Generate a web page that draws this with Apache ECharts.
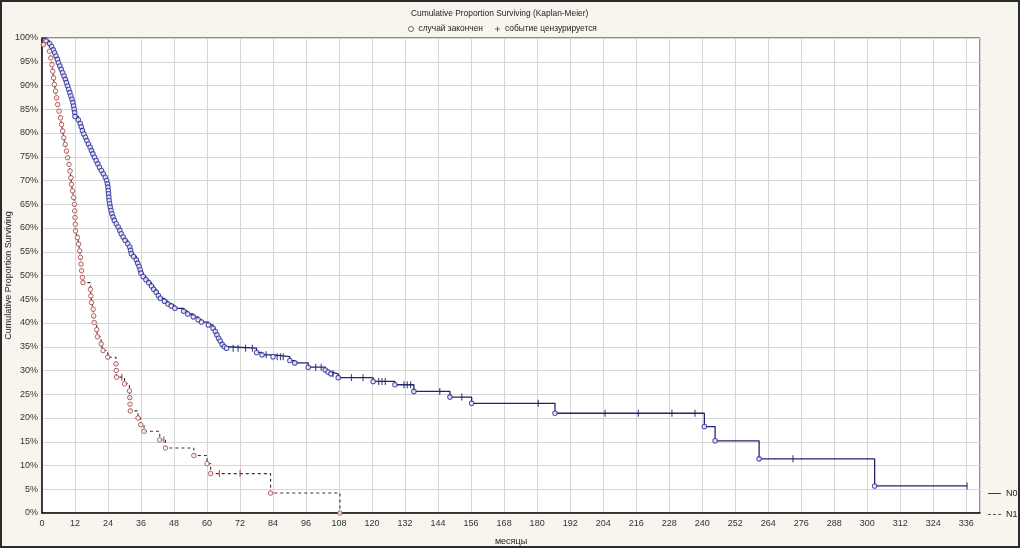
<!DOCTYPE html>
<html>
<head>
<meta charset="utf-8">
<title>Cumulative Proportion Surviving (Kaplan-Meier)</title>
<script src="https://cdn.jsdelivr.net/npm/echarts@6/dist/echarts.min.js"></script>
<style>
  html, body { margin: 0; padding: 0; background: #f7f5ed; }
  #wrap { position: relative; width: 1020px; height: 548px; }
  #chart { width: 1020px; height: 548px; }
  #frame { position: absolute; left: 0; top: 0; width: 1020px; height: 548px; box-sizing: border-box;
    border: 2px solid #2b2b2b; pointer-events: none; }
</style>
</head>
<body>
<div id="wrap">
  <div id="chart"></div>
  <div id="frame"></div>
</div>
<script>
// N0 group: event times (months) and survival (%) right after each event
const n0EventTimes = [1.5, 2.8, 3.5, 4.1, 4.6, 5.1, 5.6, 6.0, 6.5, 7.0, 7.5, 8.0, 8.5, 8.9, 9.3, 9.7, 10.1, 10.5, 10.9, 11.2,
  11.5, 11.7, 11.9, 12.0, 13.2, 13.9, 14.3, 14.7, 15.2, 15.8, 16.3, 16.9, 17.5, 18.0, 18.5, 19.1, 19.7, 20.3, 20.9, 21.6,
  22.3, 23.0, 23.5, 23.8, 24.0, 24.1, 24.2, 24.3, 24.4, 24.6, 24.8, 25.1, 25.4, 25.8, 26.3, 27.0, 27.7, 28.3, 28.8, 29.5,
  30.2, 31.2, 31.9, 32.2, 32.5, 33.3, 34.3, 34.8, 35.3, 35.7, 36.0, 36.8, 37.8, 38.8, 39.8, 40.6, 41.5, 42.3, 43.0, 44.5,
  45.8, 47.0, 48.3, 51.5, 53.0, 55.0, 56.8, 58.0, 60.5, 62.2, 63.0, 63.6, 64.2, 64.8, 65.5, 66.3, 67.1, 78.0, 80.0, 84.0,
  90.1, 91.9, 96.8, 103.0, 104.0, 105.0, 107.7, 120.4, 128.3, 135.2, 148.3, 156.2, 186.5, 240.8, 244.7, 260.7, 302.7];
const n0EventSurv = [99.4, 98.8, 98.2, 97.5, 96.9, 96.2, 95.5, 94.8, 94.1, 93.4, 92.7, 92.0, 91.3, 90.6, 89.9, 89.2, 88.5, 87.8, 87.1, 86.4,
  85.7, 85.0, 84.3, 83.5, 82.8, 82.0, 81.3, 80.5, 79.8, 79.1, 78.4, 77.7, 77.0, 76.3, 75.6, 74.9, 74.2, 73.5, 72.8, 72.1,
  71.4, 70.7, 70.0, 69.3, 68.6, 67.9, 67.2, 66.5, 65.8, 65.1, 64.4, 63.7, 63.0, 62.3, 61.6, 60.9, 60.2, 59.5, 58.8, 58.1,
  57.4, 56.7, 56.0, 55.3, 54.6, 54.0, 53.3, 52.6, 51.9, 51.2, 50.5, 49.8, 49.1, 48.5, 47.8, 47.1, 46.5, 45.8, 45.2, 44.6,
  44.0, 43.6, 43.1, 42.5, 41.9, 41.3, 40.7, 40.2, 39.6, 38.9, 38.2, 37.5, 36.8, 36.2, 35.5, 35.0, 34.7, 33.8, 33.3, 32.9,
  32.1, 31.6, 30.7, 30.1, 29.7, 29.3, 28.5, 27.7, 27.0, 25.6, 24.4, 23.1, 21.0, 18.2, 15.2, 11.4, 5.7];
const n0CensorTimes = [69.5, 71.3, 74.0, 76.5, 81.5, 85.5, 86.7, 87.7, 99.5, 101.5, 105.8, 112.5, 116.7, 122.4, 123.6, 124.8,
  131.6, 132.8, 134.0, 144.6, 152.6, 180.4, 204.7, 216.8, 229.0, 237.4, 273.0, 336.3];

// N1 group
const n1EventTimes = [0.5, 2.7, 3.2, 3.6, 3.9, 4.2, 4.5, 4.9, 5.3, 5.7, 6.2, 6.7, 7.1, 7.5, 7.9, 8.4, 8.9, 9.3, 9.8, 10.2,
  10.5, 10.7, 11.1, 11.5, 11.8, 11.9, 12.0, 12.1, 12.2, 12.9, 13.3, 13.7, 14.0, 14.2, 14.4, 14.7, 14.9, 17.6, 17.8, 18.0,
  18.6, 18.8, 19.0, 19.9, 20.2, 21.5, 22.2, 23.9, 26.9, 27.0, 27.1, 30.0, 31.8, 31.9, 32.0, 32.1, 34.9, 35.9, 37.1, 42.8,
  44.9, 55.2, 60.0, 61.3, 83.1, 108.3];
const n1EventSurv = [98.6, 97.2, 95.8, 94.4, 93.0, 91.6, 90.2, 88.8, 87.4, 86.0, 84.6, 83.2, 81.8, 80.4, 79.0, 77.6, 76.2, 74.8, 73.4, 72.0,
  70.6, 69.2, 67.8, 66.4, 65.0, 63.6, 62.2, 60.8, 59.4, 58.0, 56.6, 55.2, 53.8, 52.4, 51.0, 49.6, 48.5, 47.1, 45.7, 44.3,
  42.9, 41.5, 40.1, 38.6, 37.1, 35.6, 34.2, 32.8, 31.4, 30.0, 28.6, 27.2, 25.7, 24.3, 22.9, 21.5, 20.0, 18.6, 17.2, 15.4,
  13.7, 12.1, 10.4, 8.3, 4.2, 0.0];
const n1CensorTimes = [29.0, 44.3, 64.5, 72.0];

const xMax = 341;
const font = 'Liberation Sans, Arial, sans-serif';
const n0Color = '#23236e';
const n0Mark = '#2c2c9c';
const n1Color = '#4a2a2e';
const n1Mark = '#a53a3a';

// survival value of a step curve at time t
const survAt = (times, surv, t) => {
  let s = 100;
  for (let i = 0; i < times.length; i++) {
    if (times[i] <= t) s = surv[i];
  }
  return s;
};

const stepPoints = (times, surv, endTime) => {
  const pts = [[0, 100]];
  times.forEach((t, i) => pts.push([t, surv[i]]));
  const last = times[times.length - 1];
  if (endTime > last) pts.push([endTime, surv[surv.length - 1]]);
  return pts;
};

const n0Steps = stepPoints(n0EventTimes, n0EventSurv, Math.max(...n0CensorTimes));
const n1Steps = stepPoints(n1EventTimes, n1EventSurv, Math.max(...n1CensorTimes));
const n0Events = n0EventTimes.map((t, i) => [t, n0EventSurv[i]]);
const n1Events = n1EventTimes.map((t, i) => [t, n1EventSurv[i]]);
const n0Censored = n0CensorTimes.map(t => [t, survAt(n0EventTimes, n0EventSurv, t)]);
const n1Censored = n1CensorTimes.map(t => [t, survAt(n1EventTimes, n1EventSurv, t)]);

const plusIcon = 'path://M4,0 L6,0 L6,4 L10,4 L10,6 L6,6 L6,10 L4,10 L4,6 L0,6 L0,4 L4,4 Z';
const solidIcon = 'path://M0,0 L20,0 L20,1.4 L0,1.4 Z';
const dashIcon = 'path://M0,0 L4,0 L4,1.2 L0,1.2 Z M7,0 L11,0 L11,1.2 L7,1.2 Z M14,0 L18,0 L18,1.2 L14,1.2 Z';

const chart = echarts.init(document.getElementById('chart'));

chart.setOption({
  animation: false,
  backgroundColor: '#f7f5ed',
  title: {
    text: 'Cumulative Proportion Surviving (Kaplan-Meier)',
    left: 406,
    top: 5,
    textStyle: { fontFamily: font, fontSize: 8.4, fontWeight: 'normal', color: '#222' }
  },
  legend: [
    {
      left: 403,
      top: 20,
      itemWidth: 5,
      itemHeight: 5,
      itemGap: 12,
      textStyle: { fontFamily: font, fontSize: 8.4, color: '#222' },
      data: [
        { name: 'случай закончен', icon: 'circle', itemStyle: { color: '#fff', borderColor: '#444', borderWidth: 1 } },
        { name: 'событие цензурируется', icon: plusIcon, itemStyle: { color: '#444' } }
      ]
    },
    {
      orient: 'vertical',
      left: 983,
      top: 484,
      itemWidth: 13,
      itemHeight: 2,
      itemGap: 12,
      textStyle: { fontFamily: font, fontSize: 9, color: '#222' },
      data: [
        { name: 'N0', icon: solidIcon, itemStyle: { color: n0Color } },
        { name: 'N1', icon: dashIcon, itemStyle: { color: '#555' } }
      ]
    }
  ],
  grid: {
    left: 42,
    top: 38,
    right: 40,
    bottom: 35,
    outerBoundsMode: 'none',
    show: true,
    backgroundColor: '#ffffff',
    borderColor: '#222',
    borderWidth: 1
  },
  xAxis: {
    type: 'value',
    min: 0,
    max: xMax,
    interval: 12,
    name: 'месяцы',
    nameLocation: 'middle',
    nameGap: 24,
    nameMoveOverlap: false,
    nameTextStyle: { fontFamily: font, fontSize: 9, color: '#222' },
    axisLine: { lineStyle: { color: '#111', width: 1.5 } },
    axisTick: { show: false },
    axisLabel: { fontFamily: font, fontSize: 9, color: '#333', margin: 6, showMaxLabel: false },
    splitLine: { lineStyle: { color: '#d6d6d6', width: 1 } }
  },
  yAxis: {
    type: 'value',
    min: 0,
    max: 100,
    interval: 5,
    name: 'Cumulative Proportion Surviving',
    nameLocation: 'middle',
    nameGap: 29,
    nameMoveOverlap: false,
    nameTextStyle: { fontFamily: font, fontSize: 9, color: '#222' },
    axisLine: { show: true, lineStyle: { color: '#111', width: 1.5 } },
    axisTick: { show: false },
    axisLabel: { fontFamily: font, fontSize: 9, color: '#333', margin: 4, formatter: '{value}%' },
    splitLine: { lineStyle: { color: '#d6d6d6', width: 1 } }
  },
  series: [
    {
      name: 'N0',
      type: 'line',
      step: 'end',
      symbol: 'none',
      data: n0Steps,
      lineStyle: { color: n0Color, width: 1.3 },
      itemStyle: { color: n0Color },
      z: 3
    },
    {
      name: 'N1',
      type: 'line',
      step: 'end',
      symbol: 'none',
      data: n1Steps,
      lineStyle: { color: n1Color, width: 1.1, type: [3, 3] },
      itemStyle: { color: n1Color },
      z: 3
    },
    {
      name: 'случай закончен',
      type: 'scatter',
      data: n0Events,
      symbol: 'circle',
      symbolSize: 4.5,
      itemStyle: { color: '#fff', borderColor: n0Mark, borderWidth: 1.1 },
      z: 4
    },
    {
      name: 'случай закончен',
      type: 'scatter',
      data: n1Events,
      symbol: 'circle',
      symbolSize: 4.5,
      itemStyle: { color: '#fff', borderColor: n1Mark, borderWidth: 1 },
      z: 4
    },
    {
      name: 'событие цензурируется',
      type: 'scatter',
      data: n0Censored,
      symbol: 'rect',
      symbolSize: [1.2, 7],
      itemStyle: { color: n0Color },
      z: 4
    },
    {
      name: 'событие цензурируется',
      type: 'scatter',
      data: n1Censored,
      symbol: 'rect',
      symbolSize: [1.2, 7],
      itemStyle: { color: n1Mark },
      z: 4
    }
  ]
});

window.addEventListener('resize', () => chart.resize());
</script>
</body>
</html>
